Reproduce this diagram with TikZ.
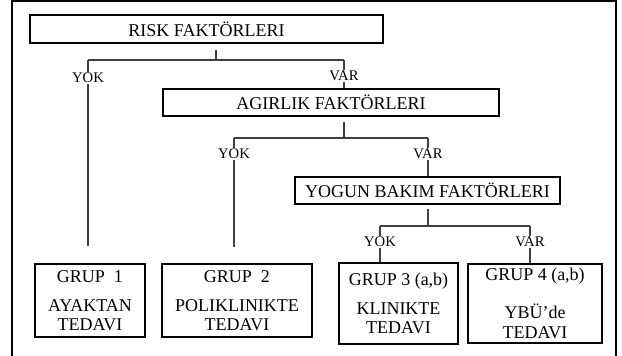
\documentclass[tikz,border=0pt]{standalone}
\usepackage{fontspec}
\setmainfont{Liberation Serif}
\usetikzlibrary{calc}
\tikzset{
	factor/.style n args={2}{
		draw, rectangle, line width=0.8pt, inner sep=0pt,
		minimum width=#1, minimum height=#2,
		font=\fontsize{13.5}{14}\selectfont
	},
	group/.style n args={2}{
		factor={#1}{#2}, align=center
	},
	choice/.style={
		fill=white, inner sep=0.6pt, font=\fontsize{11}{12}\selectfont
	},
	link/.style={line width=0.8pt, draw=black!75}
}

\begin{document}
\begin{tikzpicture}[x=0.75pt, y=-0.75pt]
\useasboundingbox (0,0) rectangle (622,356);
\draw[line width=1.5pt] (11.5,356) -- (11.5,1.5) -- (616,1.5) -- (616,356);
% boxes
\node[factor={264.75pt}{21pt}] (risk) at ( 206.5, 29 ) {RISK FAKTÖRLERI};
\node[factor={252pt}{20.25pt}] (agir) at ( 331, 102.5 ) {AGIRLIK FAKTÖRLERI};
\node[factor={198.75pt}{20.25pt}] (yogun) at ( 427.5, 190.5 ) {YOGUN BAKIM FAKTÖRLERI};
\node[group={82.5pt}{54.75pt}] (g1) at ( 90, 300.5 ) {GRUP\ \ 1\\[8pt]AYAKTAN\\TEDAVI};
\node[group={112.5pt}{54.75pt}] (g2) at ( 237, 300.5 ) {GRUP\ \ 2\\[8pt]POLIKLINIKTE\\TEDAVI};
\node[group={89.25pt}{60.75pt}] (g3) at ( 398.5, 303.5 ) {GRUP 3 (a,b)\\[8pt]KLINIKTE\\TEDAVI};
\node[group={100.5pt}{59.25pt}] (g4) at ( 535, 303.5 ) {GRUP 4 (a,b)\\[14pt]YBÜ'de\\[1pt]TEDAVI};
% junctions
\coordinate (rs) at ( 216, 50 );
\coordinate (rj) at ( 216, 60 );
\coordinate (ryk) at ( 88, 60 );
\coordinate (rvr) at ( 344, 60 );
\coordinate (e1) at ( 88, 246 );
\coordinate (as) at ( 344, 122 );
\coordinate (aj) at ( 344, 138 );
\coordinate (ayk) at ( 234, 138 );
\coordinate (avr) at ( 428, 138 );
\coordinate (e2) at ( 234, 247 );
\coordinate (ys) at ( 428, 209 );
\coordinate (yj) at ( 428, 226 );
\coordinate (yyk) at ( 380, 226 );
\coordinate (yvr) at ( 530, 226 );
% connectors
\draw[link] (rs) -- (rj);
\draw[link] (ryk) -- (rvr);
\draw[link] (ryk) -- (e1);
\draw[link] (rvr) -- (rvr |- agir.north);
\draw[link] (as) -- (aj);
\draw[link] (ayk) -- (avr);
\draw[link] (ayk) -- (e2);
\draw[link] (avr) -- (avr |- yogun.north);
\draw[link] (ys) -- (yj);
\draw[link] (yyk) -- (yvr);
\draw[link] (yyk) -- (yyk |- g3.north);
\draw[link] (yvr) -- (yvr |- g4.north);
% labels
\node[choice] (l1) at ( 88, 78 ) {YOK};
\node[choice] (l2) at ( 344, 76 ) {VAR};
\node[choice] (l3) at ( 234, 154 ) {YOK};
\node[choice] (l4) at ( 428, 154 ) {VAR};
\node[choice] (l5) at ( 380, 242 ) {YOK};
\node[choice] (l6) at ( 530, 242 ) {VAR};
\end{tikzpicture}
\end{document}
